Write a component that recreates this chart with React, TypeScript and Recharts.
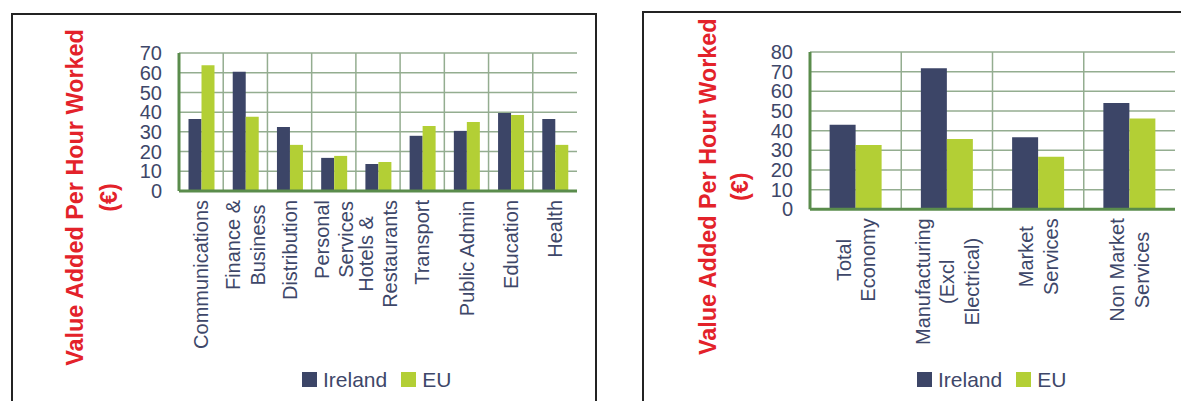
import React from 'react';
import { BarChart, Bar, XAxis, YAxis, CartesianGrid, Legend, Customized } from 'recharts';

// ---------- data ----------
const sectorCategories = [
  'Communications',
  'Finance &\nBusiness',
  'Distribution',
  'Personal\nServices',
  'Hotels &\nRestaurants',
  'Transport',
  'Public Admin',
  'Education',
  'Health',
];
const sectorIreland = [36.5, 60.5, 32.5, 16.8, 13.7, 28, 30.5, 39.6, 36.5];
const sectorEU = [63.8, 37.6, 23.4, 17.8, 14.7, 33, 35, 38.6, 23.4];
const sectorTicks = [0, 10, 20, 30, 40, 50, 60, 70];

const economyCategories = [
  'Total\nEconomy',
  'Manufacturing\n(Excl\nElectrical)',
  'Market\nServices',
  'Non Market\nServices',
];
const economyIreland = [43, 71.7, 36.7, 54];
const economyEU = [32.7, 35.7, 26.7, 46.2];
const economyTicks = [0, 10, 20, 30, 40, 50, 60, 70, 80];

const seriesNames = ['Ireland', 'EU'];
const titleLines = ['Value Added Per Hour Worked', '(€)'];

// ---------- style ----------
const FONT = '"Liberation Sans", Arial, sans-serif';
const CANVAS_FONT = '"Liberation Sans"';
const IRELAND_COLOR = '#3c4567';
const EU_COLOR = '#b3cf35';
const TEXT_COLOR = '#3e4769';
const TITLE_COLOR = '#e3222a';
const GRID_COLOR = '#94ad90';
const BORDER_COLOR = '#5a8c4c';
const LABEL_SIZE = 20;
const LABEL_LINE = 24.5;

let measureCtx: CanvasRenderingContext2D | null = null;
function measure(text: string, font: string): number {
  if (!measureCtx) measureCtx = document.createElement('canvas').getContext('2d');
  if (!measureCtx) return text.length * 10;
  measureCtx.font = font;
  return measureCtx.measureText(text).width;
}

function CategoryTick(props: any) {
  const { x, y, payload } = props;
  const lines = String(payload.value).split('\n');
  const font = `${LABEL_SIZE}px ${CANVAS_FONT}`;
  const maxW = Math.max(...lines.map((l) => measure(l, font)));
  const n = lines.length;
  return (
    <g transform={`translate(${x},${y}) rotate(-90)`}>
      {lines.map((l, i) => (
        <text
          key={i}
          x={-maxW / 2}
          y={(i - (n - 1) / 2) * LABEL_LINE + 0.36 * LABEL_SIZE}
          textAnchor="middle"
          fill={TEXT_COLOR}
          fontSize={LABEL_SIZE}
          fontFamily={FONT}
        >
          {l}
        </text>
      ))}
    </g>
  );
}

function makeTitle(baseline1: number, baseline2: number, cy: number) {
  return () => (
    <g>
      {[baseline1, baseline2].map((bx, i) => (
        <text
          key={i}
          transform={`translate(${bx},${cy}) rotate(-90)`}
          textAnchor="middle"
          fill={TITLE_COLOR}
          fontSize={23.4}
          fontWeight="bold"
          fontFamily={FONT}
        >
          {titleLines[i]}
        </text>
      ))}
    </g>
  );
}

function LegendRow() {
  return (
    <div
      style={{
        display: 'flex',
        alignItems: 'center',
        fontFamily: FONT,
        fontSize: 21,
        lineHeight: '21px',
        color: TEXT_COLOR,
        whiteSpace: 'nowrap',
      }}
    >
      <span style={{ width: 15, height: 15, background: IRELAND_COLOR, display: 'inline-block' }} />
      <span style={{ marginLeft: 6 }}>{seriesNames[0]}</span>
      <span style={{ width: 15, height: 15, background: EU_COLOR, display: 'inline-block', marginLeft: 14 }} />
      <span style={{ marginLeft: 6 }}>{seriesNames[1]}</span>
    </div>
  );
}

function boundaryGenerator(count: number) {
  return (args: any) => {
    const o = args && args.offset;
    if (!o) return [];
    const pts: number[] = [];
    for (let k = 1; k < count; k++) pts.push(o.left + (o.width * k) / count);
    return pts;
  };
}

interface PanelProps {
  categories: string[];
  ireland: number[];
  eu: number[];
  ticks: number[];
  width: number;
  margin: { top: number; right: number; bottom: number; left: number };
  legendLeft: number;
  title: () => React.ReactElement;
}

function Panel({ categories, ireland, eu, ticks, width, margin, legendLeft, title }: PanelProps) {
  const data = categories.map((name, i) => ({ name, ireland: ireland[i], eu: eu[i] }));
  const max = ticks[ticks.length - 1];
  const border = { stroke: BORDER_COLOR, strokeWidth: 3 };
  return (
    <BarChart width={width} height={401} data={data} margin={margin} barCategoryGap="21.5%" barGap={0}>
      <CartesianGrid
        stroke={GRID_COLOR}
        strokeWidth={1.5}
        verticalCoordinatesGenerator={boundaryGenerator(categories.length)}
      />
      <XAxis
        dataKey="name"
        interval={0}
        height={160}
        tickSize={0}
        tickMargin={9}
        tickLine={false}
        axisLine={border}
        tick={<CategoryTick />}
      />
      <XAxis xAxisId="top" orientation="top" dataKey="name" height={0} tick={false} tickLine={false} axisLine={border} />
      <YAxis
        domain={[0, max]}
        ticks={ticks}
        interval={0}
        width={60}
        tickSize={0}
        tickMargin={17}
        tickLine={false}
        axisLine={border}
        tick={{ fill: TEXT_COLOR, fontSize: 20, fontFamily: FONT }}
      />
      <YAxis yAxisId="right" orientation="right" domain={[0, max]} width={0} tick={false} tickLine={false} axisLine={border} />
      <Bar dataKey="ireland" name={seriesNames[0]} fill={IRELAND_COLOR} isAnimationActive={false} />
      <Bar dataKey="eu" name={seriesNames[1]} fill={EU_COLOR} isAnimationActive={false} />
      <Legend
        layout="horizontal"
        verticalAlign="middle"
        align="center"
        wrapperStyle={{ left: legendLeft, top: 369, width: 300, height: 22 }}
        content={() => <LegendRow />}
      />
      <Customized component={title} />
    </BarChart>
  );
}

export default function App() {
  return (
    <div
      style={{
        position: 'absolute',
        left: 0,
        top: 0,
        width: 1181,
        height: 401,
        overflow: 'hidden',
        background: '#ffffff',
      }}
    >
      <div
        style={{
          position: 'absolute',
          left: 11,
          top: 13,
          width: 586,
          height: 500,
          border: '2px solid #232323',
          boxSizing: 'border-box',
        }}
      />
      <div
        style={{
          position: 'absolute',
          left: 642,
          top: 11,
          width: 700,
          height: 500,
          border: '2px solid #232323',
          boxSizing: 'border-box',
        }}
      />
      <div style={{ position: 'absolute', left: 0, top: 0 }}>
        <Panel
          categories={sectorCategories}
          ireland={sectorIreland}
          eu={sectorEU}
          ticks={sectorTicks}
          width={600}
          margin={{ top: 53, right: 23, bottom: 50, left: 119 }}
          legendLeft={302}
          title={makeTitle(83.3, 116.5, 197.5)}
        />
      </div>
      <div style={{ position: 'absolute', left: 600, top: 0 }}>
        <Panel
          categories={economyCategories}
          ireland={economyIreland}
          eu={economyEU}
          ticks={economyTicks}
          width={581}
          margin={{ top: 52, right: 6, bottom: 31.7, left: 150 }}
          legendLeft={317}
          title={makeTitle(115.5, 147.6, 186.7)}
        />
      </div>
    </div>
  );
}
